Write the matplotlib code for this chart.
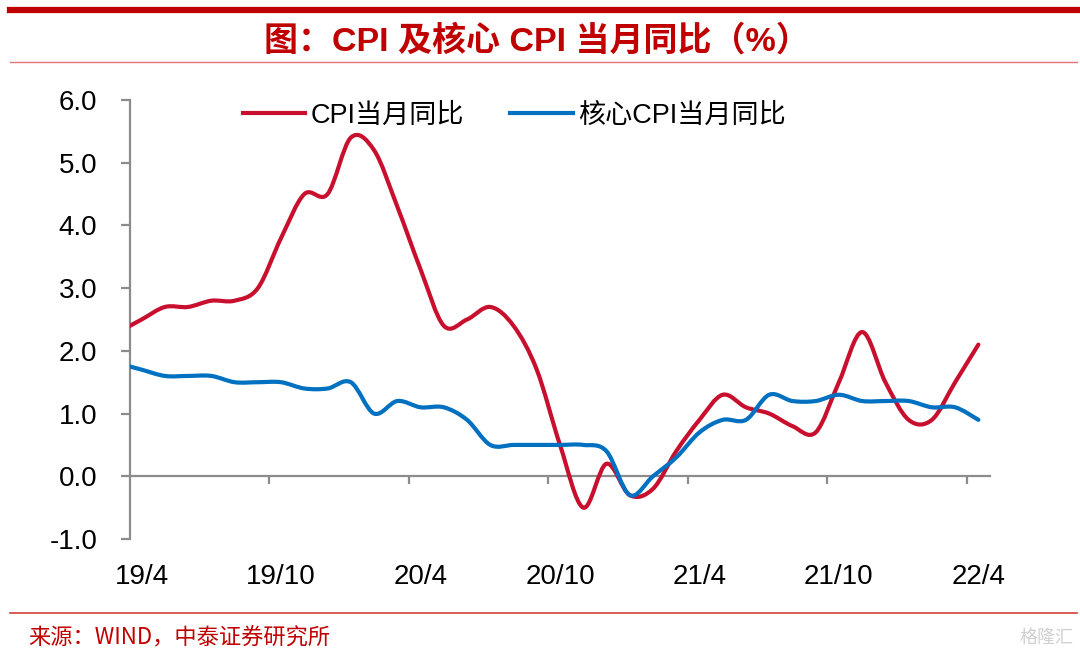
import numpy as np
import matplotlib.pyplot as plt
from matplotlib.path import Path
from matplotlib.patches import PathPatch
from matplotlib.lines import Line2D

plt.rcParams['font.family'] = ['Liberation Sans', 'Noto Sans CJK SC', 'DejaVu Sans']

# monthly data 2019/3 .. 2022/4 (the 19/3 point sits just left of the axis)
months = ['19/3', '19/4', '19/5', '19/6', '19/7', '19/8', '19/9', '19/10', '19/11', '19/12',
          '20/1', '20/2', '20/3', '20/4', '20/5', '20/6', '20/7', '20/8', '20/9', '20/10',
          '20/11', '20/12', '21/1', '21/2', '21/3', '21/4', '21/5', '21/6', '21/7', '21/8',
          '21/9', '21/10', '21/11', '21/12', '22/1', '22/2', '22/3', '22/4']
cpi = [2.3, 2.5, 2.7, 2.7, 2.8, 2.8, 3.0, 3.8, 4.5, 4.5,
       5.4, 5.2, 4.3, 3.3, 2.4, 2.5, 2.7, 2.4, 1.7, 0.5,
       -0.5, 0.2, -0.3, -0.2, 0.4, 0.9, 1.3, 1.1, 1.0, 0.8,
       0.7, 1.5, 2.3, 1.5, 0.9, 0.9, 1.5, 2.1]
core = [1.8, 1.7, 1.6, 1.6, 1.6, 1.5, 1.5, 1.5, 1.4, 1.4,
        1.5, 1.0, 1.2, 1.1, 1.1, 0.9, 0.5, 0.5, 0.5, 0.5,
        0.5, 0.4, -0.3, 0.0, 0.3, 0.7, 0.9, 0.9, 1.3, 1.2,
        1.2, 1.3, 1.2, 1.2, 1.2, 1.1, 1.1, 0.9]
tick_labels = ['19/4', '19/10', '20/4', '20/10', '21/4', '21/10', '22/4']
series_names = ['CPI当月同比', '核心CPI当月同比']

RED = '#C8102E'
BLUE = '#0070C0'
GREY = '#8C8C8C'


def smooth_path(x, y):
    """Excel-style smoothed line as cubic bezier segments through the data."""
    n = len(x)
    verts = [(x[0], y[0])]
    codes = [Path.MOVETO]
    for i in range(n - 1):
        a = i - 1 if i > 0 else i
        d = i + 2 if i + 2 < n else i + 1
        c1 = (x[i] + (x[i + 1] - x[a]) / 6, y[i] + (y[i + 1] - y[a]) / 6)
        c2 = (x[i + 1] - (x[d] - x[i]) / 6, y[i + 1] - (y[d] - y[i]) / 6)
        verts += [c1, c2, (x[i + 1], y[i + 1])]
        codes += [Path.CURVE4] * 3
    return Path(verts, codes)


fig = plt.figure(figsize=(10.8, 6.61), dpi=100)
ax = fig.add_axes([130 / 1080, 1 - 539 / 661, 860 / 1080, 439 / 661])

x = np.arange(len(months)) - 1
for vals, col in [(cpi, RED), (core, BLUE)]:
    patch = PathPatch(smooth_path(x, np.array(vals, float)), fill=False, edgecolor=col,
                      lw=3.0, capstyle='round', joinstyle='round', zorder=3)
    ax.add_patch(patch)

ax.set_xlim(-0.5, 36.5)
ax.set_ylim(-1, 6)

for s in ['top', 'right']:
    ax.spines[s].set_visible(False)
ax.spines['left'].set_color(GREY)
ax.spines['left'].set_linewidth(1.6)
ax.spines['bottom'].set_position(('data', 0))
ax.spines['bottom'].set_color(GREY)
ax.spines['bottom'].set_linewidth(1.6)

ax.set_yticks(np.arange(-1, 7, 1))
ax.set_yticklabels([f'{v:.1f}' for v in np.arange(-1, 7, 1)])
ax.tick_params(axis='y', length=6.5, width=1.6, color=GREY, pad=17, labelsize=20)

ax.set_xticks(np.arange(5.5, 36, 6))
ax.set_xticklabels([])
ax.tick_params(axis='x', which='major', length=6, width=1.6, color=GREY)
ax.set_xticks(np.arange(0, 37, 6), minor=True)
ax.set_xticklabels(tick_labels, minor=True)
ax.tick_params(axis='x', which='minor', length=0, pad=63, labelsize=20)

handles = [Line2D([], [], color=RED, lw=3.0), Line2D([], [], color=BLUE, lw=3.0)]
ax.legend(handles, series_names, loc='upper center', bbox_to_anchor=(0.447, 1.05), ncol=2,
          frameon=False, fontsize=19.5, handlelength=2.3, handletextpad=0.2, columnspacing=1.7)

# header / footer decorations
fig.add_artist(Line2D([10 / 1080, 1077 / 1080], [1 - 10 / 661] * 2, color='#C00000', lw=4.5))
fig.add_artist(Line2D([10 / 1080, 1077 / 1080], [1 - 62 / 661] * 2, color='#E57373', lw=1.0))
fig.add_artist(Line2D([10 / 1080, 1077 / 1080], [1 - 613 / 661] * 2, color='#D04040', lw=1.2))
fig.text(0.497, 1 - 41 / 661, '图：CPI 及核心 CPI 当月同比（%）', ha='center', va='center',
         fontsize=24.5, fontweight='bold', color='#C00000',
         family=['Liberation Sans', 'Noto Sans CJK SC'])
fig.text(28 / 1080, 1 - 638 / 661, '来源：WIND，中泰证券研究所', ha='left', va='center',
         fontsize=16, color='#C00000', family=['Noto Sans CJK SC'])
fig.text(1074 / 1080, 1 - 638 / 661, '格隆汇', ha='right', va='center',
         fontsize=13, color='#D0D0D0', family=['Noto Sans CJK SC'])

fig.savefig('out.png', dpi=100)
